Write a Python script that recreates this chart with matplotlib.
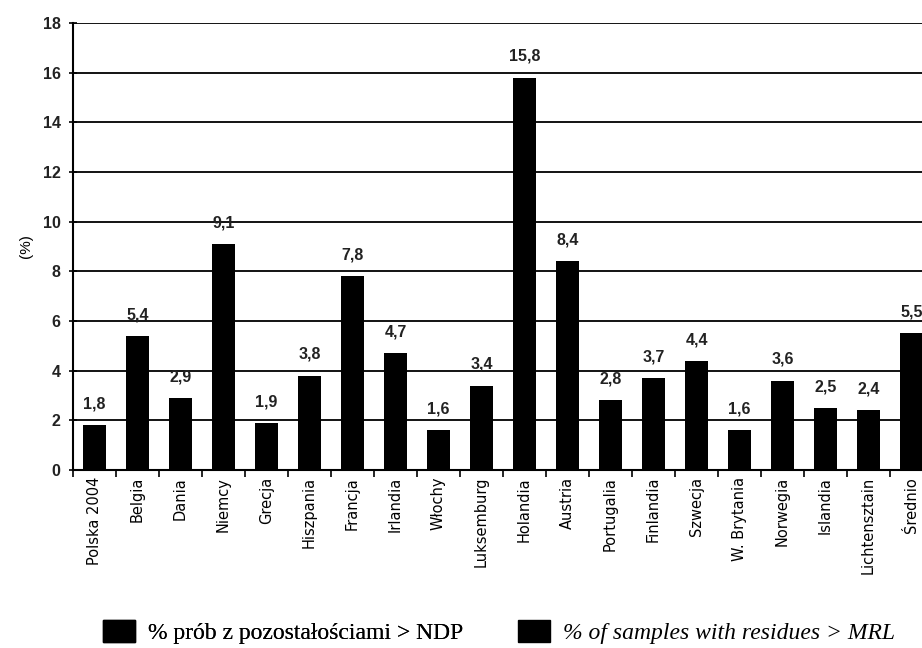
import matplotlib.pyplot as plt
from matplotlib.patches import Patch

countries = [
    "Polska 2004", "Belgia", "Dania", "Niemcy", "Grecja", "Hiszpania",
    "Francja", "Irlandia", "Włochy", "Luksemburg", "Holandia", "Austria",
    "Portugalia", "Finlandia", "Szwecja", "W. Brytania", "Norwegia",
    "Islandia", "Lichtensztain", "Średnio",
]
values = [1.8, 5.4, 2.9, 9.1, 1.9, 3.8, 7.8, 4.7, 1.6, 3.4, 15.8, 8.4,
          2.8, 3.7, 4.4, 1.6, 3.6, 2.5, 2.4, 5.5]
yticks = [0, 2, 4, 6, 8, 10, 12, 14, 16, 18]

fig = plt.figure(figsize=(9.22, 6.48), dpi=100)
n = len(countries)
# axes runs slightly past the right edge of the figure, as in the source
ax = fig.add_axes([73 / 922, 178 / 648, 43.0 * n / 922, 447 / 648])

x = list(range(n))
ax.bar(x, values, width=0.52, color="black", zorder=3)
for xi, v in zip(x, values):
    ax.text(xi, v + 0.55, f"{v:.1f}".replace(".", ","), ha="center", va="bottom",
            fontsize=11.5, fontweight="bold", family="Liberation Sans", color="#222222")

ax.set_xlim(-0.5, n - 0.5)
ax.set_ylim(0, 18)
ax.set_yticks(yticks)
ax.set_yticklabels([str(t) for t in yticks], fontsize=11.5, fontweight="bold",
                   family="Liberation Sans", color="#222222")
ax.yaxis.grid(True, color="black", linewidth=1.3, zorder=0)
ax.set_axisbelow(True)

ax.set_xticks([i - 0.5 for i in range(n + 1)], minor=False)
ax.set_xticklabels([])
ax.set_xticks(x, minor=True)
ax.set_xticklabels(countries, minor=True, rotation=90, fontsize=10.5,
                   family="DejaVu Sans")
ax.tick_params(axis="x", which="minor", length=0, pad=5)
ax.tick_params(axis="x", which="major", length=5, width=1.2, direction="out")
ax.tick_params(axis="y", length=6, width=1.2, direction="inout", pad=6)

for s in ["top", "right"]:
    ax.spines[s].set_visible(False)
ax.spines["left"].set_linewidth(1.5)
ax.spines["bottom"].set_linewidth(1.5)

ax.set_ylabel("(%)", fontsize=11, family="Liberation Sans", labelpad=7)

h = Patch(facecolor="black", edgecolor="black")
common = dict(loc="center left", frameon=False, borderpad=0, borderaxespad=0,
              handlelength=1.35, handleheight=1.05, handletextpad=0.55)
leg1 = fig.legend([h], ["% prób z pozostałościami > NDP"],
                  bbox_to_anchor=(103 / 922, 1 - 632 / 648),
                  prop={"family": "Liberation Serif", "size": 17}, **common)
leg2 = fig.legend([h], ["% of samples with residues > MRL"],
                  bbox_to_anchor=(518 / 922, 1 - 632 / 648),
                  prop={"family": "Liberation Serif", "size": 17, "style": "italic"},
                  **common)
fig.add_artist(leg1)

fig.savefig("out.png", dpi=100)
